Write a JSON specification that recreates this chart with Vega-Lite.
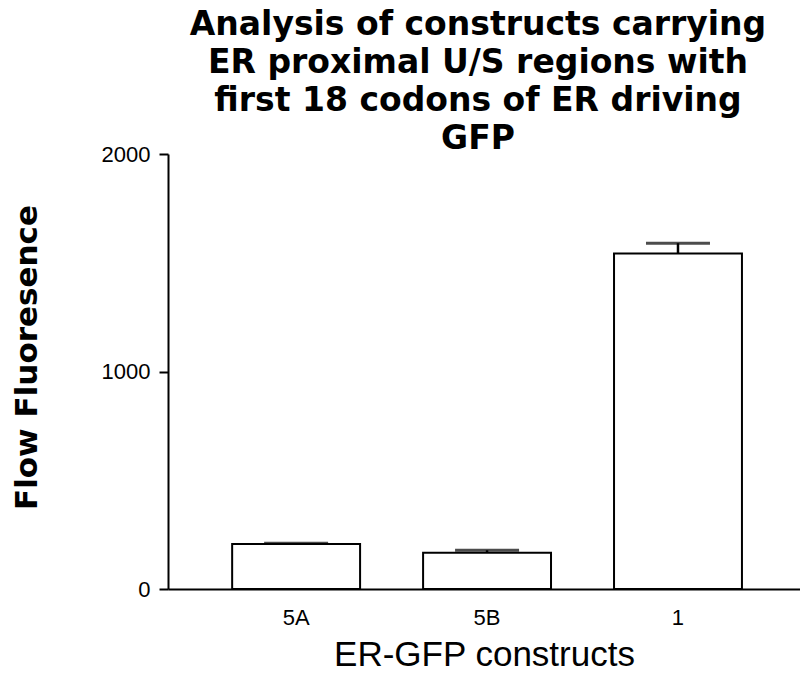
{
  "$schema": "https://vega.github.io/schema/vega-lite/v6.json",
  "width": 632,
  "height": 435,
  "autosize": {"type": "none"},
  "padding": {"left": 168, "top": 154, "right": 0, "bottom": 85},
  "background": "white",
  "title": {
    "text": ["Analysis of constructs carrying", "ER proximal U/S regions with", "first 18 codons of ER driving", "GFP"],
    "font": "DejaVu Sans",
    "fontSize": 33,
    "fontWeight": "bold",
    "lineHeight": 38,
    "color": "black",
    "anchor": "middle",
    "frame": "group",
    "baseline": "bottom",
    "offset": 0,
    "dx": -6,
    "dy": 46
  },
  "config": {
    "view": {"stroke": null},
    "axis": {"grid": false, "domainColor": "black", "domainWidth": 2, "tickColor": "black", "tickWidth": 2, "labelColor": "black", "titleColor": "black"}
  },
  "data": {
    "values": [
      {"construct": "5A", "fluorescence": 207, "error": 3},
      {"construct": "5B", "fluorescence": 167, "error": 11},
      {"construct": "1", "fluorescence": 1543, "error": 47}
    ]
  },
  "encoding": {
    "x": {
      "field": "construct",
      "type": "nominal",
      "sort": ["5A", "5B", "1"],
      "scale": {"paddingInner": 0.33, "paddingOuter": 0.32, "align": 0.525},
      "axis": {
        "title": "ER-GFP constructs",
        "titleFont": "Liberation Sans",
        "titleFontSize": 35,
        "titleFontWeight": "normal",
        "titlePadding": 9,
        "labelAngle": 0,
        "labelFont": "Liberation Sans",
        "labelFontSize": 22,
        "labelPadding": 18,
        "ticks": false
      }
    }
  },
  "layer": [
    {
      "mark": {"type": "bar", "fill": "white", "stroke": "black", "strokeWidth": 2},
      "encoding": {
        "y": {
          "field": "fluorescence",
          "type": "quantitative",
          "scale": {"domain": [0, 2000], "nice": false},
          "axis": {
            "values": [0, 1000, 2000],
            "format": "d",
            "title": "Flow Fluoresence",
            "titleFont": "DejaVu Sans",
            "titleFontSize": 31,
            "titleFontWeight": "bold",
            "titleAngle": -90,
            "titleAlign": "center",
            "titleBaseline": "middle",
            "titleX": -141,
            "titleY": 203,
            "labelFont": "Liberation Sans",
            "labelFontSize": 22,
            "labelPadding": 9,
            "tickSize": 9
          }
        }
      }
    },
    {
      "transform": [{"calculate": "datum.fluorescence + datum.error", "as": "upper"}],
      "mark": {"type": "rule", "color": "black", "strokeWidth": 2.5},
      "encoding": {
        "y": {"field": "fluorescence", "type": "quantitative"},
        "y2": {"field": "upper"}
      }
    },
    {
      "transform": [{"calculate": "datum.fluorescence + datum.error", "as": "upper"}],
      "mark": {"type": "tick", "color": "black", "size": 64, "thickness": 3},
      "encoding": {
        "y": {"field": "upper", "type": "quantitative"}
      }
    }
  ]
}
